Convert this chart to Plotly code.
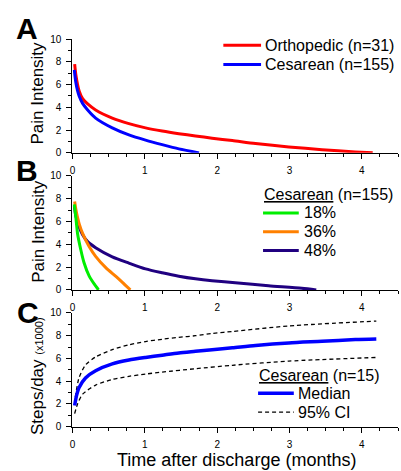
import plotly.graph_objects as go

W, H = 401, 471
FONT = "Arial, Liberation Sans, sans-serif"

# ---------------- Panel A: pain intensity (months after discharge)
ortho_x = [0.03, 0.046, 0.069, 0.092, 0.14, 0.21, 0.32, 0.55, 0.78, 1.01, 1.24, 1.47, 1.70, 1.93, 2.21, 2.53, 2.99, 3.45, 3.91, 4.15]
ortho_y = [7.8, 6.9, 6.06, 5.45, 4.77, 4.3, 3.77, 3.06, 2.57, 2.2, 1.92, 1.69, 1.49, 1.29, 1.08, 0.82, 0.52, 0.28, 0.08, 0.0]
ces_x = [0.025, 0.046, 0.069, 0.092, 0.14, 0.21, 0.32, 0.55, 0.78, 1.01, 1.24, 1.47, 1.75]
ces_y = [7.3, 6.2, 5.49, 5.0, 4.35, 3.77, 3.06, 2.2, 1.58, 1.12, 0.72, 0.35, 0.0]

# ---------------- Panel B: Cesarean subgroups
p18_x = [0.025, 0.046, 0.07, 0.115, 0.16, 0.23, 0.30, 0.36]
p18_y = [7.5, 6.38, 4.95, 3.52, 2.38, 1.23, 0.52, 0.0]
p36_x = [0.03, 0.046, 0.069, 0.092, 0.14, 0.23, 0.32, 0.46, 0.60, 0.69, 0.80]
p36_y = [7.75, 7.1, 6.38, 5.81, 4.95, 3.8, 2.94, 1.95, 1.18, 0.66, 0.0]
p48_x = [0.025, 0.046, 0.069, 0.092, 0.14, 0.21, 0.32, 0.55, 0.78, 1.01, 1.24, 1.47, 1.70, 1.93, 2.25, 2.71, 3.17, 3.37]
p48_y = [7.4, 6.5, 6.0, 5.52, 4.84, 4.23, 3.7, 2.9, 2.35, 1.84, 1.5, 1.2, 0.97, 0.8, 0.62, 0.37, 0.15, 0.0]

# ---------------- Panel C: steps/day (x1000)
med_x = [0.03, 0.055, 0.09, 0.18, 0.32, 0.55, 0.78, 1.01, 1.24, 1.47, 1.70, 1.93, 2.21, 2.53, 2.99, 3.45, 3.91, 4.2]
med_y = [1.86, 2.71, 3.43, 4.29, 4.92, 5.52, 5.86, 6.09, 6.29, 6.49, 6.63, 6.77, 6.94, 7.15, 7.37, 7.51, 7.66, 7.71]
up_x = [0.04, 0.09, 0.18, 0.32, 0.55, 0.78, 1.01, 1.24, 1.47, 1.70, 1.93, 2.21, 2.99, 4.2]
up_y = [2.6, 4.29, 5.43, 6.14, 6.77, 7.2, 7.49, 7.69, 7.86, 8.0, 8.2, 8.37, 8.86, 9.29]
lo_x = [0.03, 0.07, 0.14, 0.32, 0.55, 0.78, 1.01, 1.24, 1.70, 2.21, 2.99, 4.2]
lo_y = [1.15, 2.0, 2.86, 3.66, 4.15, 4.43, 4.63, 4.8, 5.1, 5.4, 5.77, 6.09]

x_ticks = [0, 1, 2, 3, 4]
y_ticks = [0, 2, 4, 6, 8, 10]

# legend labels
legA = ["Orthopedic (n=31)", "Cesarean (n=155)"]
legB_title = "<u>Cesarean</u> (n=155)"
legB = ["18%", "36%", "48%"]
legC_title = "<u>Cesarean</u> (n=15)"
legC = ["Median", "95% CI"]

RED, BLUE, GREEN, ORANGE, NAVY = "#ff0000", "#0000ff", "#00ee00", "#ff8000", "#200080"
DASH = "4px,3px"


def px(v):
    return v / W


def py(v):
    return 1 - v / H


fig = go.Figure()


def line(x, y, name, color, xa, ya, width=3, dash=None):
    fig.add_trace(go.Scatter(
        x=x, y=y, name=name, mode="lines",
        line=dict(color=color, width=width, shape="spline", smoothing=0.7, dash=dash),
        xaxis=xa, yaxis=ya, showlegend=False, hoverinfo="skip",
    ))


line(ortho_x, ortho_y, legA[0], RED, "x", "y")
line(ces_x, ces_y, legA[1], BLUE, "x", "y")

line(p48_x, p48_y, legB[2], NAVY, "x2", "y2")
line(p36_x, p36_y, legB[1], ORANGE, "x2", "y2")
line(p18_x, p18_y, legB[0], GREEN, "x2", "y2")

line(up_x, up_y, legC[1], "#000000", "x3", "y3", width=1.3, dash=DASH)
line(lo_x, lo_y, legC[1], "#000000", "x3", "y3", width=1.3, dash=DASH)
line(med_x, med_y, legC[0], BLUE, "x3", "y3", width=3.5)

panels = [(34, 150.7), (174.3, 291.3), (315, 431.7)]
xdom = [px(70), px(398)]


def xax(anchor):
    return dict(domain=xdom, range=[0, 4.5], anchor=anchor, showline=True, linecolor="black",
                linewidth=1.3, ticks="outside", ticklen=5, tickwidth=1, tickcolor="black",
                tickvals=x_ticks, showgrid=False, zeroline=False, ticklabelstandoff=3,
                tickfont=dict(size=10, family=FONT, color="black"),
                minor=dict(dtick=0.25, tick0=0, ticks="outside", ticklen=3, tickcolor="black", tickwidth=1),
                fixedrange=True)


def yax(anchor, top, bot):
    return dict(domain=[py(bot), py(top)], range=[0, 10], anchor=anchor, showline=True, linecolor="black",
                linewidth=1.3, ticks="outside", ticklen=5, tickwidth=1, tickcolor="black",
                tickvals=y_ticks, showgrid=False, zeroline=False, ticklabelstandoff=3,
                tickfont=dict(size=10, family=FONT, color="black"),
                minor=dict(dtick=1, tick0=0, ticks="outside", ticklen=3, tickcolor="black", tickwidth=1),
                fixedrange=True)


fig.update_layout(
    width=W, height=H,
    margin=dict(l=0, r=0, t=0, b=0),
    paper_bgcolor="white", plot_bgcolor="white",
    font=dict(family=FONT, color="black"),
    xaxis=xax("y"), yaxis=yax("x", *panels[0]),
    xaxis2=xax("y2"), yaxis2=yax("x2", *panels[1]),
    xaxis3=xax("y3"), yaxis3=yax("x3", *panels[2]),
    showlegend=False,
)

anns = []
shapes = []


def text(t, x, y, size, anchor="left", angle=0):
    anns.append(dict(text=t, x=px(x), y=py(y), xref="paper", yref="paper", showarrow=False,
                     xanchor=anchor, yanchor="middle", textangle=angle,
                     font=dict(size=size, family=FONT, color="black")))


def swatch(x0, x1, y, color, width, dash=None):
    shapes.append(dict(type="line", xref="paper", yref="paper", x0=px(x0), x1=px(x1), y0=py(y), y1=py(y),
                       line=dict(color=color, width=width, dash=dash)))


# panel letters
for letter, (cx, cy) in zip(["A", "B", "C"], [(24.5, 23), (24, 169), (25, 314)]):
    anns.append(dict(text="<b>%s</b>" % letter, x=px(cx), y=py(cy), xref="paper", yref="paper",
                     showarrow=False, xanchor="center", yanchor="middle",
                     font=dict(size=30, family=FONT, color="black")))

# axis titles
text("Pain Intensity", 35, 89, 17, anchor="center", angle=-90)
text("Pain Intensity", 35, 231, 17, anchor="center", angle=-90)
text("Steps/day <span style='font-size:11px'>(x1000)</span>", 35, 380, 17, anchor="center", angle=-90)
text("Time after discharge (months)", 235, 466, 18, anchor="center")

# legend A
for lab, col, yy in zip(legA, [RED, BLUE], [40.3, 60]):
    swatch(222, 260, yy, col, 3)
    text(lab, 262, yy, 16)

# legend B
text(legB_title, 261, 193.3, 16)
for lab, col, yy in zip(legB, [GREEN, ORANGE, NAVY], [212.3, 231.7, 251]):
    swatch(262, 298, yy, col, 3)
    text(lab, 301, yy, 16)

# legend C
text(legC_title, 256, 379, 16)
swatch(257, 293, 397.3, BLUE, 3.5)
text(legC[0], 295.5, 397.3, 16)
swatch(257, 293, 416.7, "#000000", 1.3, DASH)
text(legC[1], 295.5, 416.7, 16)

fig.update_layout(annotations=anns, shapes=shapes)

post = ("document.documentElement.style.margin='0';document.body.style.margin='0';"
        "document.body.style.padding='0';document.body.style.overflow='hidden';"
        "var d=document.getElementById('{plot_id}');d.style.position='absolute';"
        "d.style.left='0px';d.style.top='0px';")
fig.write_html("out.html", config={"displayModeBar": False}, post_script=post)
